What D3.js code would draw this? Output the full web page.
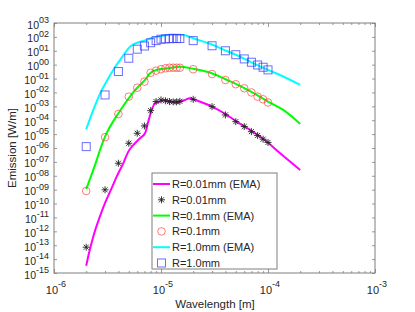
<!DOCTYPE html>
<html>
<head>
<meta charset="utf-8">
<script src="https://cdn.jsdelivr.net/npm/d3@7/dist/d3.min.js"></script>
<style>
  html, body { margin: 0; padding: 0; background: #fff; }
  svg { display: block; font-family: "Liberation Sans", Arial, Helvetica, sans-serif; }
</style>
</head>
<body>
<svg id="chart" width="415" height="312"></svg>
<script>
// ---------------- data ----------------
// marker wavelengths (micrometres)
const markerWl = [2,3,4,5,6,7,8,9,10,11,12,13,14,15,20,30,40,50,60,70,80,90,100];
// R=0.01mm (stars)
const star001 = [7.2e-14,9.8e-10,8e-8,2.2e-6,1.15e-5,3.9e-5,4.9e-4,2.2e-3,2.9e-3,2.5e-3,2.2e-3,2.1e-3,2.1e-3,2.3e-3,
                 3.2e-3,9.5e-4,2.4e-4,7.9e-5,3.5e-5,1.5e-5,7.9e-6,4.3e-6,2.5e-6];
// R=0.1mm (circles)
const circ01 = [8.1e-10,6e-6,2.8e-4,5e-3,2.2e-2,6e-2,0.26,0.37,0.47,0.55,0.6,0.6,0.6,0.6,
                0.47,0.21,0.079,0.039,0.02,0.01,5e-3,3.2e-3,1.9e-3];
// R=1.0mm (squares)
const sq10 = [1.26e-6,6.6e-3,0.32,2.9,13,22,38,54,68,72,75,76,76,76,
              54,23,10,5.2,2.6,1.5,0.95,0.65,0.42];

// EMA curves (wavelength in micrometres, emission W/m)
const emaWl001 = [2,2.09,2.33,2.69,3,3.46,3.85,4.44,4.95,5.71,6.36,7.09,7.6,8.19,8.79,9.79,10.9,12.1,14,16.2,18.7,20,30,40,51,68,97,129,200];
const ema001 = [3.3e-15,1.6e-14,4.3e-13,1.2e-11,1.1e-10,1.3e-9,8.7e-9,7.9e-8,5.5e-7,2.2e-6,5.1e-6,1.15e-5,7.9e-5,5.5e-4,1.66e-3,2.2e-3,2.9e-3,2.2e-3,1.9e-3,2.6e-3,3.8e-3,3.2e-3,9.5e-4,2.8e-4,7.9e-5,2e-5,2.9e-6,4.3e-7,2.6e-8];

const emaWl01 = [2,2.51,2.69,3,4,5.13,5.93,7.09,7.9,9.1,11.5,15,20,29.8,39.6,50,70,100,139,200];
const ema01 = [1.1e-9,1.4e-7,7.2e-7,6.6e-6,3.2e-4,5e-3,2e-2,7.9e-2,0.24,0.42,0.55,0.72,0.5,0.24,0.093,0.042,1.1e-2,2.2e-3,5.5e-4,5.4e-5];

const emaWl10 = [2,2.33,2.69,3,3.7,4.3,5.13,6,7.35,8,10,13,16.2,20,28.7,40,50,70,100,129,200];
const ema10 = [2.2e-5,5.5e-4,7.9e-3,4e-2,0.63,3.2,19.5,38,60,79,115,148,138,79,32,10.5,5.2,1.48,0.42,0.18,3.5e-2];

const yTickExp = d3.range(-15, 4);
const xTickExp = [-6, -5, -4, -3];
const legendLabels = ["R=0.01mm (EMA)", "R=0.01mm", "R=0.1mm (EMA)", "R=0.1mm", "R=1.0mm (EMA)", "R=1.0mm"];

// ---------------- chart ----------------
const svg = d3.select("#chart");
const L = 54, R = 375, T = 23, B = 273;
const x = d3.scaleLog().domain([1e-6, 1e-3]).range([L, R]);
const y = d3.scaleLog().domain([1e-15, 1e3]).range([B, T]);
const axisColor = "#7f7f7f";
const textColor = "#262626";

// minor x ticks
const xMinor = [];
for (let e = -6; e < -3; e++) for (let m = 2; m <= 9; m++) xMinor.push(m * Math.pow(10, e));
const xMajor = xTickExp.map(e => Math.pow(10, e));
const yMajor = yTickExp.map(e => Math.pow(10, e));

const gAx = svg.append("g");
function addAxis(axis, tr) {
  const g = gAx.append("g").attr("transform", tr).call(axis);
  g.select(".domain").remove();
  g.selectAll("line").attr("stroke", axisColor).attr("stroke-width", 0.8);
  g.selectAll("text").remove();
}
addAxis(d3.axisBottom(x).tickValues(xMajor).tickSize(-4).tickFormat(""), `translate(0,${B})`);
addAxis(d3.axisBottom(x).tickValues(xMinor).tickSize(-2).tickFormat(""), `translate(0,${B})`);
addAxis(d3.axisTop(x).tickValues(xMajor).tickSize(-4).tickFormat(""), `translate(0,${T})`);
addAxis(d3.axisTop(x).tickValues(xMinor).tickSize(-2).tickFormat(""), `translate(0,${T})`);
addAxis(d3.axisLeft(y).tickValues(yMajor).tickSize(-3).tickFormat(""), `translate(${L},0)`);
addAxis(d3.axisRight(y).tickValues(yMajor).tickSize(-3).tickFormat(""), `translate(${R},0)`);

gAx.append("rect").attr("x", L).attr("y", T).attr("width", R - L).attr("height", B - T)
  .attr("fill", "none").attr("stroke", axisColor).attr("stroke-width", 1);

// y tick labels
const fmtExp = e => (e < 0 ? "-" : "") + String(Math.abs(e)).padStart(2, "0");
yTickExp.forEach(e => {
  const t = svg.append("text").attr("x", 49).attr("y", y(Math.pow(10, e)) + 5.5)
    .attr("text-anchor", "end").attr("fill", textColor).attr("font-size", 10.5);
  t.append("tspan").text("10");
  t.append("tspan").attr("dy", -5.5).attr("font-size", 9).text(fmtExp(e));
});
// x tick labels
xTickExp.forEach(e => {
  const t = svg.append("text").attr("x", x(Math.pow(10, e)) + 2).attr("y", 294)
    .attr("text-anchor", "middle").attr("fill", textColor).attr("font-size", 11);
  t.append("tspan").text("10");
  t.append("tspan").attr("dy", -7).attr("font-size", 9).text(String(e));
});

// axis titles
svg.append("text").attr("x", 215).attr("y", 308).attr("text-anchor", "middle")
  .attr("fill", textColor).attr("font-size", 11.5).text("Wavelength [m]");
svg.append("text").attr("transform", `translate(16,${(T + B) / 2}) rotate(-90)`)
  .attr("text-anchor", "middle").attr("fill", textColor).attr("font-size", 11.5).text("Emission [W/m]");

// lines
const line = d3.line().x(d => x(d[0] * 1e-6)).y(d => y(d[1])).curve(d3.curveMonotoneX);
const series = [
  { wl: emaWl001, v: ema001, color: "#ff00ff" },
  { wl: emaWl01, v: ema01, color: "#00ff00" },
  { wl: emaWl10, v: ema10, color: "#00ffff" }
];
series.forEach(s => {
  svg.append("path").datum(s.wl.map((w, i) => [w, s.v[i]]))
    .attr("d", line).attr("fill", "none").attr("stroke", s.color).attr("stroke-width", 2);
});

// markers
const sqColor = "rgba(60,60,255,0.75)";
const circColor = "rgba(255,70,70,0.8)";
const starColor = "#222";
function starPath(cx, cy, r) {
  const d = r * 0.72;
  return `M${cx - r},${cy}L${cx + r},${cy}M${cx},${cy - r}L${cx},${cy + r}` +
         `M${cx - d},${cy - d}L${cx + d},${cy + d}M${cx - d},${cy + d}L${cx + d},${cy - d}`;
}
svg.append("g").selectAll("rect").data(markerWl.map((w, i) => [w, sq10[i]])).join("rect")
  .attr("x", d => x(d[0] * 1e-6) - 4).attr("y", d => y(d[1]) - 4)
  .attr("width", 8).attr("height", 8).attr("fill", "none").attr("stroke", sqColor).attr("stroke-width", 1);
svg.append("g").selectAll("circle").data(markerWl.map((w, i) => [w, circ01[i]])).join("circle")
  .attr("cx", d => x(d[0] * 1e-6)).attr("cy", d => y(d[1])).attr("r", 3.8)
  .attr("fill", "none").attr("stroke", circColor).attr("stroke-width", 0.9);
svg.append("g").selectAll("path").data(markerWl.map((w, i) => [w, star001[i]])).join("path")
  .attr("d", d => starPath(x(d[0] * 1e-6), y(d[1]), 3.5))
  .attr("fill", "none").attr("stroke", starColor).attr("stroke-width", 0.9);

// legend
const lg = svg.append("g");
lg.append("rect").attr("x", 152).attr("y", 173).attr("width", 125).attr("height", 96)
  .attr("fill", "#fff").attr("stroke", axisColor).attr("stroke-width", 1);
const rowY = i => 184 + i * 15.8;
const legendKinds = [
  { type: "line", color: "#ff00ff" }, { type: "star" },
  { type: "line", color: "#00ff00" }, { type: "circle" },
  { type: "line", color: "#00ffff" }, { type: "square" }
];
legendKinds.forEach((k, i) => {
  const cy = rowY(i), cx = 161.5;
  if (k.type === "line") lg.append("line").attr("x1", 153).attr("x2", 170).attr("y1", cy).attr("y2", cy)
    .attr("stroke", k.color).attr("stroke-width", 2);
  else if (k.type === "star") lg.append("path").attr("d", starPath(cx, cy, 3.5)).attr("stroke", starColor).attr("stroke-width", 0.9);
  else if (k.type === "circle") lg.append("circle").attr("cx", cx).attr("cy", cy).attr("r", 3.8)
    .attr("fill", "none").attr("stroke", circColor).attr("stroke-width", 0.9);
  else lg.append("rect").attr("x", cx - 4).attr("y", cy - 4).attr("width", 8).attr("height", 8)
    .attr("fill", "none").attr("stroke", sqColor).attr("stroke-width", 1);
  lg.append("text").attr("x", 172).attr("y", cy + 4).attr("font-size", 11).attr("fill", textColor).text(legendLabels[i]);
});
</script>
</body>
</html>
